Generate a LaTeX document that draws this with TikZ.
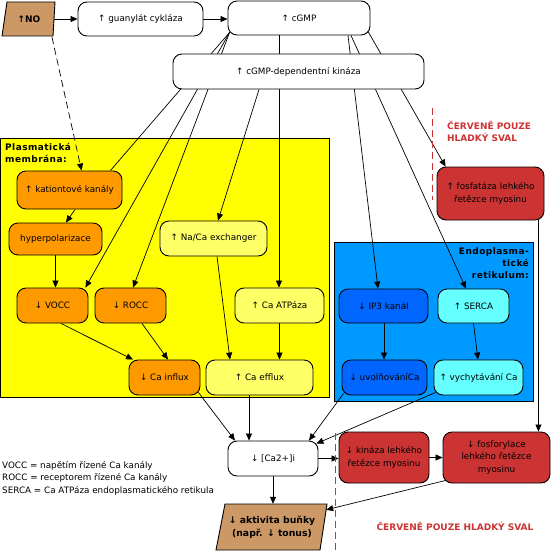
\documentclass[tikz,border=0pt]{standalone}
\usepackage{fontspec}
\setmainfont{DejaVu Sans}
\usetikzlibrary{arrows.meta}
\pgfdeclarelayer{bg}
\pgfdeclarelayer{conn}
\pgfsetlayers{bg,conn,main}
\definecolor{brownbox}{HTML}{CC9966}
\definecolor{orangebox}{HTML}{FF9900}
\definecolor{paleyellow}{HTML}{FFFF66}
\definecolor{membrane}{HTML}{FFFF00}
\definecolor{erblue}{HTML}{0099FF}
\definecolor{darkblue}{HTML}{0066FF}
\definecolor{cyanbox}{HTML}{66FFFF}
\definecolor{redbox}{HTML}{CC3333}
\begin{document}
\begin{tikzpicture}[x=1pt,y=-1pt,
  every node/.style={font=\fontsize{8.8}{12.5}\selectfont, inner sep=0pt, align=center},
  box/.style={draw=black, line width=0.9pt, rounded corners=9pt},
  boldtxt/.style={font=\fontsize{9}{12.5}\selectfont\bfseries},
  widebold/.style={font=\fontsize{9}{12}\selectfont\bfseries\addfontfeatures{LetterSpace=5}},
  redtxt/.style={font=\fontsize{9}{12}\selectfont\bfseries, text=redbox},
  conn/.style={line width=0.7pt, -{Triangle[length=7pt,width=6pt]}},
  plain/.style={line width=0.7pt},
  reddash/.style={draw=redbox, line width=0.9pt, dash pattern=on 7pt off 4pt},
]
\useasboundingbox (0,0) rectangle (551,551);

% regions
\begin{pgfonlayer}{bg}
  \draw[line width=0.9pt, fill=membrane] (0.5,138) rectangle (329,397);
  \draw[line width=0.9pt, fill=erblue] (334,242) rectangle (533,401);
\end{pgfonlayer}

% region titles
\node[widebold, align=left, anchor=north west] (pmlabel) at (5,143) {Plasmatická\\membrána:};
\node[widebold, align=right, anchor=north east] (erlabel) at (529,247) {Endoplasma-\\tické\\retikulum:};
\node[redtxt, align=left, anchor=north west] (redtop) at (447,121) {ČERVENĚ POUZE\\HLADKÝ SVAL};
\node[redtxt] (redbottom) at (455,526) {ČERVENĚ POUZE HLADKÝ SVAL};

% NO
\draw[line width=0.9pt, fill=brownbox] (7,2) -- (55,2) -- (53,36) -- (2,36) -- cycle;
\node[boldtxt, minimum width=50pt, minimum height=34pt] (no) at (29,19) {↑NO};

% top boxes
\node[box, fill=white, minimum width=125pt, minimum height=34pt] (gc) at (140.5,19) {↑ guanylát cykláza};
\node[box, fill=white, minimum width=142pt, minimum height=34pt] (cgmp) at (299,18) {↑ cGMP};
\node[box, fill=white, minimum width=251pt, minimum height=35pt] (pkg) at (298.5,71.5) {↑ cGMP-dependentní kináza};

% plasma membrane boxes
\node[box, fill=orangebox, minimum width=105pt, minimum height=38pt] (kat) at (69.5,190) {↑ kationtové kanály};
\node[box, fill=orangebox, minimum width=93pt, minimum height=32pt] (hyp) at (55.5,239) {hyperpolarizace};
\node[box, fill=paleyellow, minimum width=107pt, minimum height=35pt] (naca) at (213.5,238.5) {↑ Na/Ca exchanger};
\node[box, fill=orangebox, minimum width=71pt, minimum height=35pt] (vocc) at (52.5,305.5) {↓ VOCC};
\node[box, fill=orangebox, minimum width=71pt, minimum height=35pt] (rocc) at (130.5,305.5) {↓ ROCC};
\node[box, fill=paleyellow, minimum width=89pt, minimum height=35pt] (atp) at (279.5,305.5) {↑ Ca ATPáza};
\node[box, fill=orangebox, minimum width=71pt, minimum height=35pt] (influx) at (164.5,377.5) {↓ Ca influx};
\node[box, fill=paleyellow, minimum width=107pt, minimum height=35pt] (efflux) at (259.5,377.5) {↑ Ca efflux};

% ER boxes
\node[box, fill=darkblue, minimum width=89pt, minimum height=34pt] (ip3) at (383.5,306) {↓ IP3 kanál};
\node[box, fill=cyanbox, minimum width=71pt, minimum height=34pt] (serca) at (473.5,306) {↑ SERCA};
\node[box, fill=darkblue, minimum width=85pt, minimum height=35pt] (uvol) at (384.5,377.5) {↓ uvolňováníCa};
\node[box, fill=cyanbox, minimum width=89pt, minimum height=35pt] (vych) at (478.5,377.5) {↑ vychytávání Ca};

% smooth muscle boxes
\node[box, fill=redbox, minimum width=107pt, minimum height=53pt] (fosf) at (490.5,193.5) {↑ fosfatáza lehkého\\řetězce myosinu};
\node[box, fill=white, minimum width=90pt, minimum height=35pt] (ca) at (273,458.5) {↓ [Ca2+]i};
\node[box, fill=redbox, minimum width=90pt, minimum height=51pt] (kin) at (384,457.5) {↓ kináza lehkého\\řetězce myosinu};
\node[box, fill=redbox, minimum width=107pt, minimum height=51pt] (fosfo) at (496.5,457.5) {↓ fosforylace\\lehkého řetězce\\myosinu};

% result
\draw[line width=0.9pt, fill=brownbox] (225,504) -- (327,504) -- (320,550) -- (216,550) -- cycle;
\node[boldtxt, font=\fontsize{9.3}{13}\selectfont\bfseries, minimum width=108pt, minimum height=46pt] (akt) at (272,527) {↓ aktivita buňky\\(např. ↓ tonus)};

% legend
\node[align=left, anchor=west] (legend) at (2,478) {VOCC = napětím řízené Ca kanály\\ROCC = receptorem řízené Ca kanály\\SERCA = Ca ATPáza endoplasmatického retikula};

% red dashed separators
\coordinate (sepTopA) at (432,108);
\coordinate (sepTopB) at (432,200);
\coordinate (sepBotA) at (335,433);
\coordinate (sepBotB) at (335,551);
\draw[reddash] (sepTopA) -- (sepTopB);
\draw[reddash] (sepBotA) -- (sepBotB);

% connectors
\begin{pgfonlayer}{conn}
  \coordinate (fan) at ([xshift=2pt,yshift=3pt]cgmp.south west);
  \draw[conn] (no.east) -- (gc.west);
  \draw[conn] (gc.east) -- (gc.east -| cgmp.west);
  \draw[conn, dash pattern=on 7pt off 4pt] ([xshift=23pt,yshift=-1pt]no.south) -- ([xshift=65pt]kat.north west);
  \draw[plain] (fan) -- ([xshift=-12pt]kat.north east);
  \draw[conn] (fan) -- ([xshift=-3pt]vocc.north east);
  \draw[conn] (fan) -- ([xshift=2.5pt]rocc.north);
  \draw[plain] ([xshift=-20pt]cgmp.south) -- ([xshift=-20pt]cgmp.south |- pkg.north);
  \draw[conn] ([xshift=49pt]cgmp.south) -- ([xshift=-5.5pt]ip3.north);
  \draw[conn] ([xshift=52pt]cgmp.south) -- ([xshift=-7.5pt]serca.north);
  \draw[conn] ([xshift=-3pt,yshift=5pt]cgmp.south east) -- ([xshift=9pt]fosf.north west);
  \draw[conn] ([xshift=-39.5pt]pkg.south) -- ([xshift=4.5pt]naca.north);
  \draw[conn] ([xshift=-19.5pt]pkg.south) -- ([xshift=-19.5pt]pkg.south |- atp.north);
  \draw[conn] ([xshift=5.5pt]kat.south) -- ([xshift=10.5pt]hyp.north);
  \draw[conn] (hyp.south) -- (hyp.south |- vocc.north);
  \draw[conn] ([xshift=8.5pt]vocc.south) -- ([xshift=-31.5pt]influx.north);
  \draw[conn] ([xshift=11.5pt]rocc.south) -- ([xshift=3.5pt]influx.north);
  \draw[conn] ([xshift=3.5pt]naca.south) -- ([xshift=-29.5pt]efflux.north);
  \draw[conn] (atp.south) -- (atp.south |- efflux.north);
  \draw[conn] ([xshift=0.5pt]ip3.south) -- ([xshift=0.5pt]ip3.south |- uvol.north);
  \draw[conn] (serca.south) -- ([xshift=-0.5pt]vych.north);
  \draw[conn] ([xshift=-2pt,yshift=3pt]influx.south east) -- ([xshift=-38pt]ca.north);
  \draw[conn] ([xshift=-10.5pt]efflux.south) -- ([xshift=-10.5pt]efflux.south |- ca.north);
  \draw[conn] ([xshift=2pt,yshift=2pt]uvol.south west) -- ([xshift=36pt]ca.north);
  \draw[conn] ([xshift=2pt,yshift=3pt]vych.south west) -- ([xshift=-2pt,yshift=-3pt]ca.north east);
  \draw[conn] ([xshift=-6pt]fosf.south east) -- ([xshift=-6pt]fosf.south east |- fosfo.north);
  \draw[conn] (ca.east) -- (ca.east -| kin.west);
  \draw[conn] (kin.east) -- (fosfo.west);
  \draw[conn] ([xshift=3pt,yshift=3pt]fosfo.south west) -- ([yshift=-6pt]akt.north east);
  \draw[conn] (ca.south) -- (ca.south |- akt.north);
\end{pgfonlayer}
\end{tikzpicture}
\end{document}
